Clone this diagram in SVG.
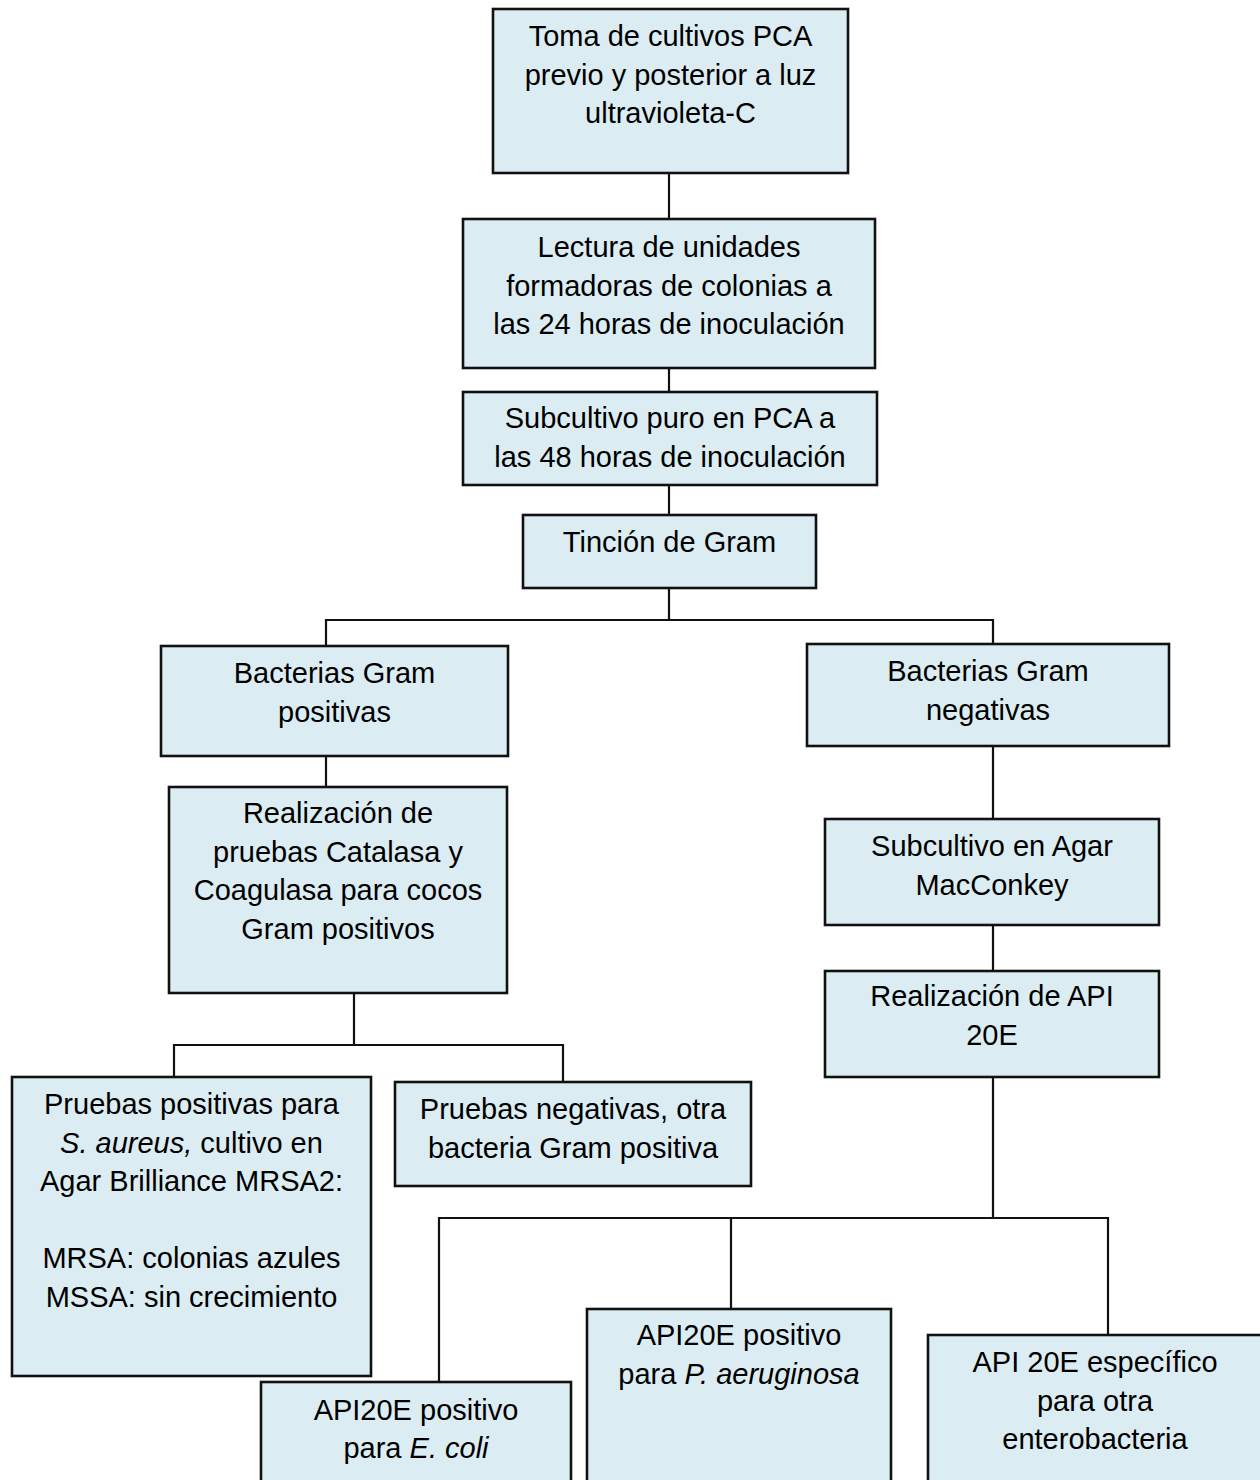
<svg xmlns="http://www.w3.org/2000/svg" width="1260" height="1480" viewBox="0 0 1260 1480">
<style>
.box{fill:#DBEDF3;stroke:#111;stroke-width:2.6}
.t{font-family:"Liberation Sans",Arial,sans-serif;font-size:29px;fill:#000;text-anchor:middle}
.i{font-style:italic}
.c{fill:none;stroke:#111;stroke-width:2.2}
</style>
<rect width="1260" height="1480" fill="#fff"/>
<g id="connectors">
<path class="c" d="M669,173V219"/>
<path class="c" d="M669,368V392"/>
<path class="c" d="M669,485V515"/>
<path class="c" d="M669,588V620M326,646V620H993V644"/>
<path class="c" d="M326,756V787"/>
<path class="c" d="M993,746V819"/>
<path class="c" d="M354,993V1045M174,1077V1045H563V1082"/>
<path class="c" d="M993,925V971"/>
<path class="c" d="M993,1077V1218M439,1382V1218H1108V1335M731,1218V1309"/>
</g>
<g id="n1"><rect class="box" x="493" y="9" width="355" height="164"/>
<text class="t" x="670.5" y="46">Toma de cultivos PCA</text>
<text class="t" x="670.5" y="84.5">previo y posterior a luz</text>
<text class="t" x="670.5" y="123">ultravioleta-C</text></g>
<g id="n2"><rect class="box" x="463" y="219" width="412" height="149"/>
<text class="t" x="669" y="257">Lectura de unidades</text>
<text class="t" x="669" y="295.5">formadoras de colonias a</text>
<text class="t" x="669" y="334">las 24 horas de inoculación</text></g>
<g id="n3"><rect class="box" x="463" y="392" width="414" height="93"/>
<text class="t" x="670" y="428">Subcultivo puro en PCA a</text>
<text class="t" x="670" y="467">las 48 horas de inoculación</text></g>
<g id="n4"><rect class="box" x="523" y="515" width="293" height="73"/>
<text class="t" x="669.5" y="552">Tinción de Gram</text></g>
<g id="n5"><rect class="box" x="161" y="646" width="347" height="110"/>
<text class="t" x="334.5" y="683">Bacterias Gram</text>
<text class="t" x="334.5" y="721.5">positivas</text></g>
<g id="n6"><rect class="box" x="807" y="644" width="362" height="102"/>
<text class="t" x="988" y="681">Bacterias Gram</text>
<text class="t" x="988" y="719.5">negativas</text></g>
<g id="n7"><rect class="box" x="169" y="787" width="338" height="206"/>
<text class="t" x="338" y="823">Realización de</text>
<text class="t" x="338" y="861.5">pruebas Catalasa y</text>
<text class="t" x="338" y="900">Coagulasa para cocos</text>
<text class="t" x="338" y="938.5">Gram positivos</text></g>
<g id="n8"><rect class="box" x="825" y="819" width="334" height="106"/>
<text class="t" x="992" y="856">Subcultivo en Agar</text>
<text class="t" x="992" y="894.5">MacConkey</text></g>
<g id="n9"><rect class="box" x="825" y="971" width="334" height="106"/>
<text class="t" x="992" y="1006">Realización de API</text>
<text class="t" x="992" y="1045">20E</text></g>
<g id="n10"><rect class="box" x="12" y="1077" width="359" height="299"/>
<text class="t" x="191.5" y="1114">Pruebas positivas para</text>
<text class="t" x="191.5" y="1152.5"><tspan class="i">S. aureus,</tspan> cultivo en</text>
<text class="t" x="191.5" y="1191">Agar Brilliance MRSA2:</text>
<text class="t" x="191.5" y="1268">MRSA: colonias azules</text>
<text class="t" x="191.5" y="1306.5">MSSA: sin crecimiento</text></g>
<g id="n11"><rect class="box" x="395" y="1082" width="356" height="104"/>
<text class="t" x="573" y="1119">Pruebas negativas, otra</text>
<text class="t" x="573" y="1157.5">bacteria Gram positiva</text></g>
<g id="n12"><rect class="box" x="261" y="1382" width="310" height="110"/>
<text class="t" x="416" y="1420">API20E positivo</text>
<text class="t" x="416" y="1458">para <tspan class="i">E. coli</tspan></text></g>
<g id="n13"><rect class="box" x="587" y="1309" width="304" height="183"/>
<text class="t" x="739" y="1345">API20E positivo</text>
<text class="t" x="739" y="1384">para <tspan class="i">P. aeruginosa</tspan></text></g>
<g id="n14"><rect class="box" x="928" y="1335" width="336" height="157"/>
<text class="t" x="1095" y="1372">API 20E específico</text>
<text class="t" x="1095" y="1410.5">para otra</text>
<text class="t" x="1095" y="1449">enterobacteria</text></g>
</svg>
